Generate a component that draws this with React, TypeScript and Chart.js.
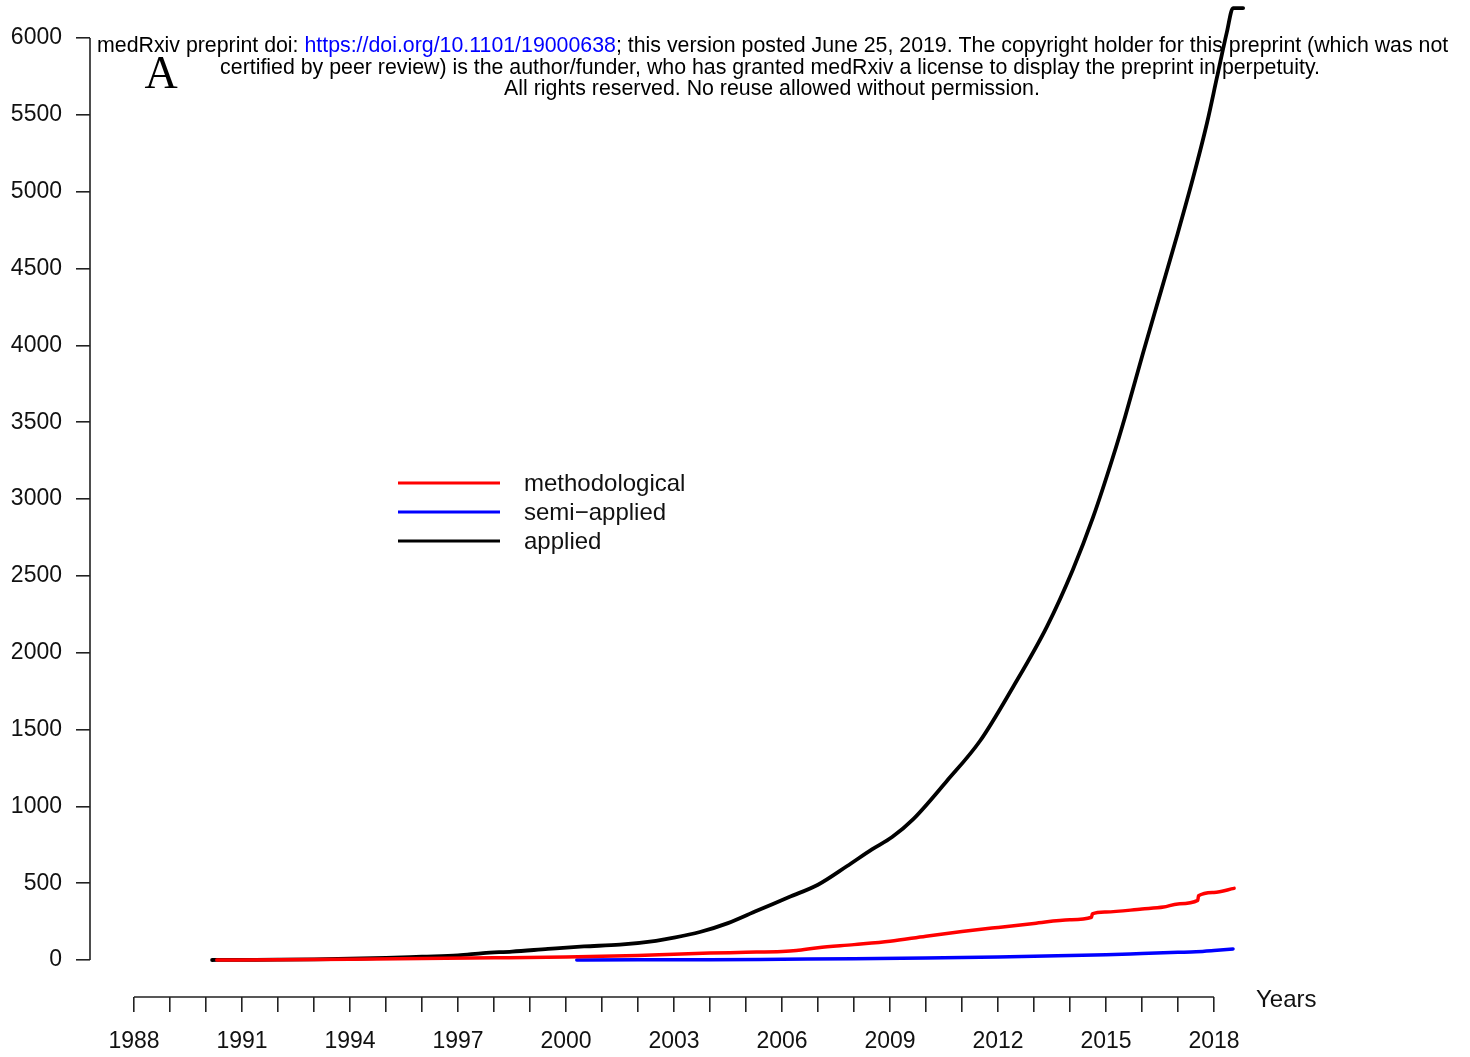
import { useEffect, useRef } from 'react';
import { Chart, registerables } from 'chart.js';

Chart.register(...registerables);

// ---- data ----
const seriesNames = ['methodological', 'semi\u2212applied', 'applied'];
const seriesColors = ['#ff0000', '#0000ff', '#000000'];

const methYears = [1990.3, 1992, 1994, 1996, 1998, 2000, 2001, 2002, 2003, 2004, 2005, 2006, 2006.4, 2007, 2008, 2009, 2010, 2011, 2012, 2013, 2014, 2014.6, 2014.62, 2015, 2016, 2016.6, 2017, 2017.55, 2017.57, 2018, 2018.56];
const methCounts = [0, 2, 5, 9, 14, 20, 25, 30, 38, 45, 50, 56, 62, 80, 100, 122, 155, 185, 212, 238, 262, 278, 300, 312, 332, 345, 365, 388, 418, 440, 466];

const semiYears = [2000.3, 2002, 2004, 2006, 2008, 2010, 2012, 2013, 2014, 2015, 2016, 2017, 2017.5, 2018, 2018.53];
const semiCounts = [0, 1, 2, 5, 8, 13, 20, 24, 29, 34, 42, 50, 54, 62, 72];

const appliedYears = [1990.17, 1991, 1992, 1993, 1994, 1995, 1996, 1997, 1997.7, 1998.5, 1999.5, 2000.5, 2001.5, 2002.5, 2003, 2003.72, 2004.5, 2005.3, 2006.2, 2007, 2007.8, 2008.5, 2009.06, 2009.64, 2010.58, 2011.5, 2012.42, 2013.36, 2014.08, 2014.64, 2015.19, 2015.53, 2016.03, 2016.5, 2016.97, 2017.42, 2017.81, 2018.08, 2018.36, 2018.53, 2018.81];
const appliedCounts = [0, 1, 2, 4, 8, 14, 22, 30, 45, 55, 72, 88, 100, 125, 145, 182, 240, 320, 410, 490, 610, 720, 800, 915, 1165, 1425, 1777, 2170, 2540, 2880, 3270, 3534, 3950, 4330, 4710, 5090, 5450, 5740, 6040, 6195, 6195];

const yTickValues = [0, 500, 1000, 1500, 2000, 2500, 3000, 3500, 4000, 4500, 5000, 5500, 6000];
const xTickYears = [1988, 1989, 1990, 1991, 1992, 1993, 1994, 1995, 1996, 1997, 1998, 1999, 2000, 2001, 2002, 2003, 2004, 2005, 2006, 2007, 2008, 2009, 2010, 2011, 2012, 2013, 2014, 2015, 2016, 2017, 2018];
const xLabelYears = [1988, 1991, 1994, 1997, 2000, 2003, 2006, 2009, 2012, 2015, 2018];

const xAxisTitle = 'Years';
const panelLabel = 'A';
const headerPre = 'medRxiv preprint doi: ';
const headerLink = 'https://doi.org/10.1101/19000638';
const headerPost = '; this version posted June 25, 2019. The copyright holder for this preprint (which was not';
const headerLine2 = 'certified by peer review) is the author/funder, who has granted medRxiv a license to display the preprint in perpetuity.';
const headerLine3 = 'All rights reserved. No reuse allowed without permission.';

const SANS = "'Liberation Sans', Arial, Helvetica, sans-serif";
const SERIF = "'Liberation Serif', 'Times New Roman', serif";

function toPoints(xs: number[], ys: number[]) {
  return xs.map((x, i) => ({ x, y: ys[i] }));
}

const overlayPlugin = {
  id: 'overlay',
  afterDraw(chart: any) {
    const ctx: CanvasRenderingContext2D = chart.ctx;
    const xs = chart.scales.x;
    const ys = chart.scales.y;
    ctx.save();
    // axis lines (R style, spanning first to last tick)
    ctx.strokeStyle = '#222';
    ctx.lineWidth = 1.6;
    ctx.beginPath();
    const ax = ys.right;
    ctx.moveTo(ax, ys.getPixelForValue(yTickValues[0]));
    ctx.lineTo(ax, ys.getPixelForValue(yTickValues[yTickValues.length - 1]));
    const ay = xs.top;
    ctx.moveTo(xs.getPixelForValue(xTickYears[0]), ay);
    ctx.lineTo(xs.getPixelForValue(xTickYears[xTickYears.length - 1]), ay);
    ctx.stroke();

    // x axis title
    ctx.fillStyle = '#111';
    ctx.font = `24px ${SANS}`;
    ctx.textAlign = 'left';
    ctx.textBaseline = 'middle';
    ctx.fillText(xAxisTitle, 1256, 1000);

    // legend
    const legendX = 398, legendLineW = 102, legendTextX = 524;
    const legendY = [483, 512, 541];
    chart.data.datasets.forEach((ds: any, i: number) => {
      ctx.strokeStyle = ds.borderColor;
      ctx.lineWidth = 3;
      ctx.beginPath();
      ctx.moveTo(legendX, legendY[i]);
      ctx.lineTo(legendX + legendLineW, legendY[i]);
      ctx.stroke();
      ctx.fillStyle = '#111';
      ctx.font = `24px ${SANS}`;
      ctx.fillText(ds.label, legendTextX, legendY[i] + 1);
    });

    // header text
    ctx.textBaseline = 'alphabetic';
    const base = 20;
    ctx.font = `${base}px ${SANS}`;
    const full = headerPre + headerLink + headerPost;
    const w = ctx.measureText(full).width;
    const size = base * 1352 / w;
    ctx.font = `${size}px ${SANS}`;
    let x = 97;
    ctx.textAlign = 'left';
    ctx.fillStyle = '#000';
    ctx.fillText(headerPre, x, 52);
    x += ctx.measureText(headerPre).width;
    ctx.fillStyle = '#0000ff';
    ctx.fillText(headerLink, x, 52);
    x += ctx.measureText(headerLink).width;
    ctx.fillStyle = '#000';
    ctx.fillText(headerPost, x, 52);
    ctx.textAlign = 'center';
    ctx.fillText(headerLine2, 770, 74);
    ctx.fillText(headerLine3, 772, 95);

    // panel label
    ctx.font = `46px ${SERIF}`;
    ctx.textAlign = 'center';
    ctx.fillText(panelLabel, 161, 88);
    ctx.restore();
  },
};

export default function App() {
  const ref = useRef<HTMLCanvasElement | null>(null);
  useEffect(() => {
    if (!ref.current) return;
    const chart = new Chart(ref.current, {
      type: 'line',
      data: {
        datasets: [
          { label: seriesNames[0], data: toPoints(methYears, methCounts), borderColor: seriesColors[0], borderWidth: 3.5 },
          { label: seriesNames[1], data: toPoints(semiYears, semiCounts), borderColor: seriesColors[1], borderWidth: 3.5 },
          { label: seriesNames[2], data: toPoints(appliedYears, appliedCounts), borderColor: seriesColors[2], borderWidth: 3.8 },
        ],
      },
      options: {
        responsive: false,
        animation: false,
        layout: { padding: { left: 0, top: 0, right: 170, bottom: 0 } },
        elements: { point: { radius: 0 }, line: { cubicInterpolationMode: 'monotone', borderCapStyle: 'round', borderJoinStyle: 'round' } },
        plugins: { legend: { display: false }, tooltip: { enabled: false } },
        scales: {
          x: {
            type: 'linear',
            min: 1986.778,
            max: 2020.39,
            afterBuildTicks: (s: any) => { s.ticks = xTickYears.map((v) => ({ value: v })); },
            afterFit: (s: any) => { s.height = 60; s.paddingLeft = 0; s.paddingRight = 0; },
            grid: { display: true, drawOnChartArea: false, drawTicks: true, tickLength: 15, color: '#222', lineWidth: 1.6 },
            border: { display: false },
            ticks: {
              autoSkip: false,
              maxRotation: 0,
              padding: 16,
              color: '#111',
              font: { family: SANS, size: 23 },
              callback: (v: any) => (xLabelYears.includes(Number(v)) ? String(v) : ''),
            },
          },
          y: {
            type: 'linear',
            min: -240.8,
            max: 6247.3,
            afterBuildTicks: (s: any) => { s.ticks = yTickValues.map((v) => ({ value: v })); },
            afterFit: (s: any) => { s.width = 90; s.paddingTop = 0; s.paddingBottom = 0; },
            grid: { display: true, drawOnChartArea: false, drawTicks: true, tickLength: 14, color: '#222', lineWidth: 1.6 },
            border: { display: false },
            ticks: {
              padding: 14,
              color: '#111',
              font: { family: SANS, size: 23 },
              callback: (v: any) => String(v),
            },
          },
        },
      },
      plugins: [overlayPlugin],
    });
    return () => chart.destroy();
  }, []);
  return (
    <div style={{ position: 'absolute', left: 0, top: 0, width: 1470, height: 1057, background: '#fff' }}>
      <canvas ref={ref} width={1470} height={1057} style={{ width: 1470, height: 1057 }} />
    </div>
  );
}
